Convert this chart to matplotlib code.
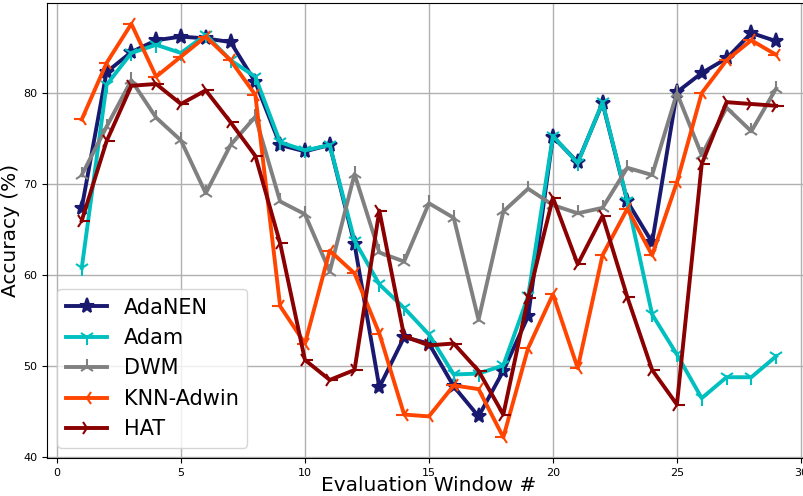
import numpy as np
import matplotlib
matplotlib.use("Agg")
import matplotlib.pyplot as plt

# Datos
ventanas = list(range(1, 30))

adanen = [67.4, 82.3, 84.5, 85.8, 86.2, 86.0, 85.6, 81.2, 74.3, 73.6,
          74.3, 63.4, 47.7, 53.2, 52.5, 47.8, 44.5, 49.5, 55.5, 75.2,
          72.4, 78.9, 68.1, 63.6, 80.1, 82.2, 83.8, 86.6, 85.7]
adam = [60.8, 80.9, 84.4, 85.3, 84.4, 86.4, 83.6, 81.8, 74.6, 73.7,
        74.3, 63.8, 59.0, 56.4, 53.5, 49.1, 49.2, 50.1, 57.7, 75.3,
        72.3, 79.0, 68.2, 55.7, 51.3, 46.5, 48.8, 48.8, 51.1]
dwm = [71.0, 76.3, 81.4, 77.3, 74.8, 69.0, 74.3, 77.4, 68.1, 66.7,
       60.4, 71.1, 62.5, 61.5, 67.9, 66.3, 55.1, 67.0, 69.5, 67.7,
       66.8, 67.4, 71.8, 71.0, 80.0, 73.2, 78.4, 75.8, 80.5]
knn_adwin = [77.1, 83.3, 87.6, 81.8, 84.0, 86.2, 83.6, 79.8, 56.6, 52.5,
             62.7, 60.2, 53.6, 44.7, 44.5, 47.9, 47.5, 42.2, 52.0, 57.9,
             49.8, 62.2, 67.3, 62.2, 70.2, 80.0, 83.6, 85.8, 84.2]
hat = [66.0, 74.7, 80.8, 81.0, 78.8, 80.3, 76.8, 73.1, 63.5, 50.7,
       48.5, 49.6, 67.1, 53.3, 52.3, 52.5, 49.5, 44.7, 57.5, 68.5,
       61.2, 66.5, 57.6, 49.6, 45.8, 72.2, 79.0, 78.8, 78.6]

series = [
    ("AdaNEN", adanen, "#191970", "*"),
    ("Adam", adam, "#00bfbf", "1"),
    ("DWM", dwm, "#808080", "2"),
    ("KNN-Adwin", knn_adwin, "#ff4500", "3"),
    ("HAT", hat, "#8b0000", "4"),
]

fig = plt.figure(figsize=(8.04, 4.96), dpi=100)
ax = fig.add_axes([0.0585, 0.0766, 0.950, 0.917])

for nombre, valores, color, marca in series:
    ax.plot(ventanas, valores, color=color, marker=marca, markersize=11,
            markeredgewidth=1.5, linewidth=2.8, label=nombre)

ax.grid(True, color="#b0b0b0", linewidth=1.0)
ax.set_xticks([0, 5, 10, 15, 20, 25, 30])
ax.set_yticks([40, 50, 60, 70, 80])
ax.tick_params(labelsize=8)
ax.set_xlabel("Evaluation Window #", fontsize=14.5)
ax.set_ylabel("Accuracy (%)", fontsize=14.5)
ax.xaxis.set_label_coords(0.5, -0.04)
ax.yaxis.set_label_coords(-0.035, 0.5)
ax.legend(loc="lower left", fontsize=15, handlelength=2.0)

fig.savefig("out.png", dpi=100)
